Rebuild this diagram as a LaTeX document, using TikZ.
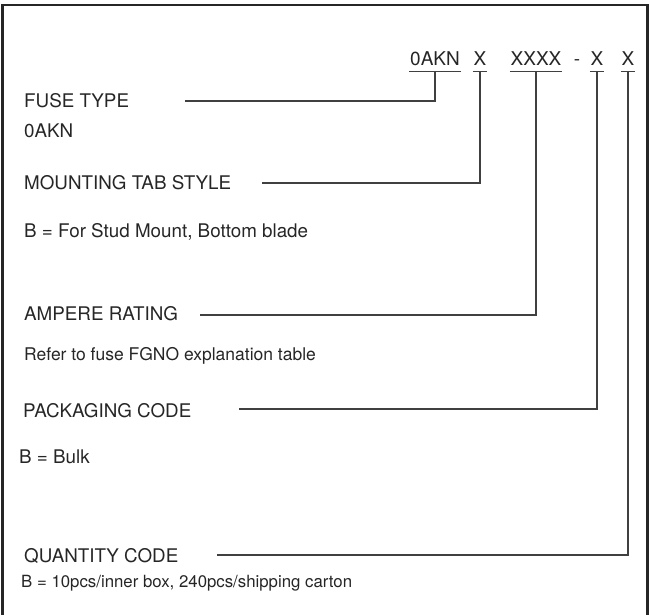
\documentclass[tikz,border=0pt]{standalone}
\usepackage{fontspec}
\setmainfont{TeX Gyre Heros}

\begin{document}
\begin{tikzpicture}[x=1bp,y=-1bp,
	head/.style={anchor=base west,inner sep=0pt,text=black!85,font=\fontsize{18.8bp}{22bp}\selectfont},
	note/.style={head,font=\fontsize{17.5bp}{21bp}\selectfont},
	code/.style={anchor=base,inner xsep=0.5bp,inner ysep=5bp,text depth=0pt,text=black!85,font=\fontsize{19bp}{22bp}\selectfont},
	lead/.style={draw=black!75,line width=1.3bp}]
	\useasboundingbox (0,0) rectangle (650,615);
	\draw[black!85,line width=2.2bp] (2.5,615) -- (2.5,5) -- (647.5,5) -- (647.5,615);
	% part number
	\node[code] (akn) at (435,66) {0AKN};
	\node[code] (tabx) at (480,66) {X};
	\node[code] (ampx) at (536,66) {XXXX};
	\node[code] (hyph) at (577,66) {-};
	\node[code] (pkgx) at (597,66) {X};
	\node[code] (qtyx) at (628,66) {X};
	\foreach \n in {akn,tabx,ampx,pkgx,qtyx}
		\draw[lead] (\n.south west) -- (\n.south east);
	% labels
	\node[head] (fuse) at (24,108) {FUSE TYPE};
	\node[head] (fuseval) at (24,138) {0AKN};
	\node[head] (tab) at (24,190) {MOUNTING TAB STYLE};
	\node[head] (tabval) at (24,237) {B = For Stud Mount, Bottom blade};
	\node[head] (amp) at (24,320) {AMPERE RATING};
	\node[note] (ampval) at (24,360) {Refer to fuse FGNO explanation table};
	\node[head] (pkg) at (23,417) {PACKAGING CODE};
	\node[head] (pkgval) at (19,463) {B = Bulk};
	\node[head] (qty) at (24,562) {QUANTITY CODE};
	\node[note,font=\fontsize{16.8bp}{20bp}\selectfont] (qtyval) at (21,587) {B = 10pcs/inner box, 240pcs/shipping carton};
	% leaders
	\coordinate (fuse-s) at (185,101);
	\coordinate (tab-s) at (262,183);
	\coordinate (amp-s) at (200,315);
	\coordinate (pkg-s) at (239,409);
	\coordinate (qty-s) at (217,555);
	\draw[lead] (akn.south) |- (fuse-s);
	\draw[lead] (tabx.south) |- (tab-s);
	\draw[lead] (ampx.south) |- (amp-s);
	\draw[lead] (pkgx.south) |- (pkg-s);
	\draw[lead] (qtyx.south) |- (qty-s);
\end{tikzpicture}
\end{document}
